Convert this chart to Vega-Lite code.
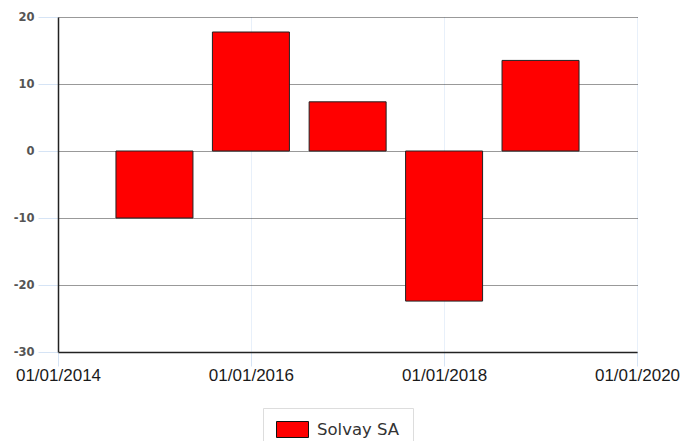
{
  "$schema": "https://vega.github.io/schema/vega-lite/v6.json",
  "autosize": "none",
  "width": 579,
  "height": 335,
  "padding": {"left": 58, "top": 17, "right": 43, "bottom": 89},
  "background": "white",
  "config": {"view": {"stroke": null}},
  "data": {
    "values": [
      {"date": "2015-01-01T00:00:00", "value": -10.0, "series": "Solvay SA"},
      {"date": "2016-01-01T00:00:00", "value": 17.76, "series": "Solvay SA"},
      {"date": "2017-01-01T00:00:00", "value": 7.34, "series": "Solvay SA"},
      {"date": "2018-01-01T00:00:00", "value": -22.4, "series": "Solvay SA"},
      {"date": "2019-01-01T00:00:00", "value": 13.52, "series": "Solvay SA"}
    ]
  },
  "mark": {"type": "bar", "size": 77, "stroke": "#222222", "strokeWidth": 1},
  "encoding": {
    "x": {
      "field": "date",
      "type": "temporal",
      "scale": {"domain": [{"year": 2014, "month": 1, "date": 1}, {"year": 2020, "month": 1, "date": 1}], "padding": 0, "nice": false},
      "axis": {
        "title": null,
        "values": [
          {"year": 2014, "month": 1, "date": 1},
          {"year": 2016, "month": 1, "date": 1},
          {"year": 2018, "month": 1, "date": 1},
          {"year": 2020, "month": 1, "date": 1}
        ],
        "format": "%d/%m/%Y",
        "labelFlush": false,
        "labelOverlap": false,
        "labelFont": "Liberation Sans",
        "labelFontSize": 17,
        "labelColor": "#1a1a1a",
        "labelPadding": 1,
        "tickSize": 14,
        "tickColor": "#d6e4f5",
        "domainColor": "#222222",
        "domainWidth": 1.5,
        "grid": true,
        "gridColor": "#d0e0f4",
        "gridDash": [1, 1],
        "gridWidth": 1
      }
    },
    "y": {
      "field": "value",
      "type": "quantitative",
      "scale": {"domain": [-30, 20], "nice": false, "zero": false},
      "axis": {
        "title": null,
        "values": [-30, -20, -10, 0, 10, 20],
        "labelExpr": "'' + datum.value",
        "labelFont": "DejaVu Sans",
        "labelFontSize": 11.5,
        "labelFontWeight": "bold",
        "labelColor": "#555555",
        "labelPadding": 4,
        "tickSize": 20,
        "tickColor": "#d6e4f5",
        "domainColor": "#222222",
        "domainWidth": 1.5,
        "grid": true,
        "gridColor": "#333333",
        "gridDash": [1, 1],
        "gridWidth": 1
      }
    },
    "color": {
      "field": "series",
      "type": "nominal",
      "scale": {"range": ["#ff0000"]},
      "legend": {
        "title": null,
        "orient": "none",
        "legendX": 205,
        "legendY": 391,
        "padding": 13,
        "strokeColor": "#dddddd",
        "fillColor": "white",
        "symbolType": "M-2,-1H2V1H-2Z",
        "symbolSize": 256,
        "symbolOffset": 8,
        "symbolStrokeColor": "#111111",
        "symbolStrokeWidth": 1,
        "symbolOpacity": 1,
        "labelExpr": "datum.label + '\u2002\u2002\u2002'",
        "labelFont": "DejaVu Sans",
        "labelFontSize": 16.5,
        "labelColor": "#333333",
        "labelOffset": 16,
        "columnPadding": 0,
        "labelLimit": 300
      }
    }
  }
}
